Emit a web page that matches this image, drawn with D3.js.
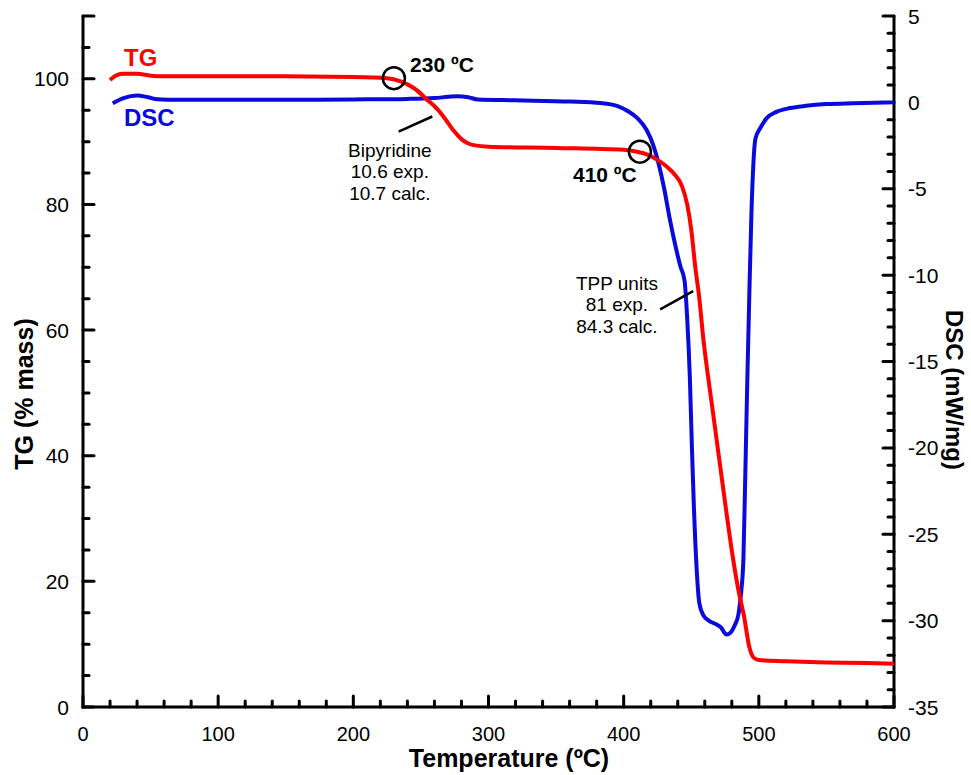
<!DOCTYPE html>
<html>
<head>
<meta charset="utf-8">
<script src="https://cdn.jsdelivr.net/npm/d3@7"></script>
<style>
  body { margin: 0; background: #fff; }
  svg { font-family: "Liberation Sans", Arial, sans-serif; }
</style>
</head>
<body>
<svg id="chart" width="971" height="775"></svg>
<script>
// TG curve (% mass) vs temperature
const tgTemp = [20, 25, 30, 40, 50, 60, 100, 150, 200, 225, 235, 245, 255, 262, 268, 274, 280, 285, 290, 300,
  350, 400, 410, 418, 425, 432, 438, 443, 447, 450, 453, 456, 459, 462, 466, 471, 476, 481, 485, 489,
  493, 496, 500, 520, 550, 580, 600];
const tgMass = [99.8, 100.6, 100.8, 100.8, 100.5, 100.4, 100.4, 100.4, 100.3, 100.1, 99.6, 98.5, 96.6, 95.2, 93.6, 91.8, 90.4, 89.7, 89.4, 89.2,
  89.0, 88.7, 88.4, 87.9, 87.1, 86.0, 84.7, 83.0, 80.0, 76.0, 70.0, 65.0, 58.5, 53.3, 47, 39, 31, 23.5, 18.5, 14.5,
  9.5, 7.9, 7.5, 7.3, 7.1, 7.0, 6.9];

// DSC curve (mW/mg) vs temperature
const dscTemp = [22, 30, 40, 48, 55, 70, 100, 150, 200, 240, 260, 270, 277, 285, 292, 320, 360, 383, 395, 403,
  410, 417, 422, 426, 430, 434, 438, 442, 445, 447, 449, 450.5, 452, 454, 456, 459, 463, 468, 472, 476,
  479, 482, 485, 487, 488.6, 490, 491.5, 493, 494.5, 496, 497.5, 501, 506, 513, 523, 535, 550, 570, 600];
const dscVal = [-0.05, 0.25, 0.4, 0.3, 0.18, 0.15, 0.15, 0.15, 0.17, 0.2, 0.25, 0.32, 0.36, 0.3, 0.17, 0.12, 0.05, -0.04, -0.2, -0.5,
  -0.9, -1.6, -2.5, -3.6, -5.0, -6.7, -8.2, -9.5, -10.3, -12.5, -16, -20, -23.5, -27, -29.0, -29.7, -30.0, -30.2, -30.4, -30.8,
  -30.7, -30.3, -29.6, -28.3, -26.4, -21.5, -16, -11, -6.5, -3.5, -2.1, -1.5, -0.9, -0.55, -0.33, -0.2, -0.1, -0.05, 0];

// tick labels
const xTicks = [0, 100, 200, 300, 400, 500, 600];
const tgTicks = [0, 20, 40, 60, 80, 100];
const dscTicks = [5, 0, -5, -10, -15, -20, -25, -30, -35];

// annotations, positioned in (temperature, TG) units
const onsetMarks = [
  { t: 230, v: 100.1, label: "230 ºC", lt: 242, lv: 101.1 },
  { t: 412, v: 88.4, label: "410 ºC", lt: 362.5, lv: 83.6 }
];
const stepNotes = [
  { lines: ["Bipyridine", "10.6 exp.", "10.7 calc."], t: 227, v: 87.6, from: [233.5, 91.6], to: [258.4, 94.0] },
  { lines: ["TPP units", "81 exp.", "84.3 calc."], t: 395, v: 66.4, from: [427, 63.3], to: [451.4, 66.2] }
];

const svg = d3.select("#chart");
const mLeft = 83, mRight = 894, mTop = 16, mBottom = 707;

const x = d3.scaleLinear().domain([0, 600]).range([mLeft, mRight]);
const yTG = d3.scaleLinear().domain([0, 110]).range([mBottom, mTop]);
const yDSC = d3.scaleLinear().domain([-35, 5]).range([mBottom, mTop]);

// axes, ticks pointing inward
const ax = svg.append("g").attr("stroke", "#000").attr("stroke-width", 3).attr("stroke-linecap", "round");

// x axis
ax.append("line").attr("x1", mLeft).attr("x2", mRight).attr("y1", mBottom).attr("y2", mBottom);
d3.range(0, 601, 20).forEach(v => {
  const len = v % 100 === 0 ? 11 : 6;
  ax.append("line").attr("x1", x(v)).attr("x2", x(v)).attr("y1", mBottom).attr("y2", mBottom - len);
});
// left axis
ax.append("line").attr("x1", mLeft).attr("x2", mLeft).attr("y1", mTop).attr("y2", mBottom);
d3.range(0, 111, 5).forEach(v => {
  const len = (v % 20 === 0 || v === 110) ? 11 : 6;
  ax.append("line").attr("x1", mLeft).attr("x2", mLeft + len).attr("y1", yTG(v)).attr("y2", yTG(v));
});
// right axis
ax.append("line").attr("x1", mRight).attr("x2", mRight).attr("y1", mTop).attr("y2", mBottom);
d3.range(-35, 6, 1).forEach(v => {
  const len = v % 5 === 0 ? 11 : 6;
  ax.append("line").attr("x1", mRight).attr("x2", mRight - len).attr("y1", yDSC(v)).attr("y2", yDSC(v));
});

// tick labels
svg.append("g").selectAll("text").data(xTicks).join("text")
  .attr("x", d => x(d)).attr("y", 741)
  .attr("text-anchor", "middle").style("font-size", "20px").text(d => d);
svg.append("g").selectAll("text").data(tgTicks).join("text")
  .attr("x", 69).attr("y", d => yTG(d) + 7.5)
  .attr("text-anchor", "end").style("font-size", "21px").text(d => d);
svg.append("g").selectAll("text").data(dscTicks).join("text")
  .attr("x", 908).attr("y", d => yDSC(d) + 7.5)
  .attr("text-anchor", "start").style("font-size", "21px").text(d => d);

// axis titles
svg.append("text").attr("x", 509).attr("y", 767).attr("text-anchor", "middle")
  .style("font-size", "25px").style("font-weight", "bold").text("Temperature (ºC)");
svg.append("text").attr("transform", "translate(33,394) rotate(-90)").attr("text-anchor", "middle")
  .style("font-size", "25px").style("font-weight", "bold").text("TG (% mass)");
svg.append("text").attr("transform", "translate(946,390) rotate(90)").attr("text-anchor", "middle")
  .style("font-size", "24px").style("font-weight", "bold").text("DSC (mW/mg)");

// curves
const tgData = tgTemp.map((t, i) => [t, tgMass[i]]);
const dscData = dscTemp.map((t, i) => [t, dscVal[i]]);

svg.append("path").datum(dscData)
  .attr("fill", "none").attr("stroke", "#0a0adc").attr("stroke-width", 4).attr("stroke-linejoin", "round")
  .attr("d", d3.line().x(d => x(d[0])).y(d => yDSC(d[1])).curve(d3.curveMonotoneX));
svg.append("path").datum(tgData)
  .attr("fill", "none").attr("stroke", "#ff0000").attr("stroke-width", 4).attr("stroke-linejoin", "round")
  .attr("d", d3.line().x(d => x(d[0])).y(d => yTG(d[1])).curve(d3.curveMonotoneX));

// legend labels
svg.append("text").attr("x", 124).attr("y", 66).attr("fill", "#ff0000")
  .style("font-size", "24px").style("font-weight", "bold").text("TG");
svg.append("text").attr("x", 124).attr("y", 126).attr("fill", "#0a0adc")
  .style("font-size", "24px").style("font-weight", "bold").text("DSC");

// onset circles + labels
onsetMarks.forEach(m => {
  svg.append("circle").attr("cx", x(m.t)).attr("cy", yTG(m.v)).attr("r", 11)
    .attr("fill", "none").attr("stroke", "#000").attr("stroke-width", 2.5);
  svg.append("text").attr("x", x(m.lt)).attr("y", yTG(m.lv))
    .style("font-size", "21px").style("font-weight", "bold").text(m.label);
});

// step annotations
stepNotes.forEach(n => {
  svg.append("line")
    .attr("x1", x(n.from[0])).attr("y1", yTG(n.from[1]))
    .attr("x2", x(n.to[0])).attr("y2", yTG(n.to[1]))
    .attr("stroke", "#000").attr("stroke-width", 2.5);
  const txt = svg.append("text").attr("text-anchor", "middle").style("font-size", "19px");
  n.lines.forEach((l, i) => {
    txt.append("tspan").attr("x", x(n.t)).attr("y", yTG(n.v) + i * 21.5).text(l);
  });
});
</script>
</body>
</html>
